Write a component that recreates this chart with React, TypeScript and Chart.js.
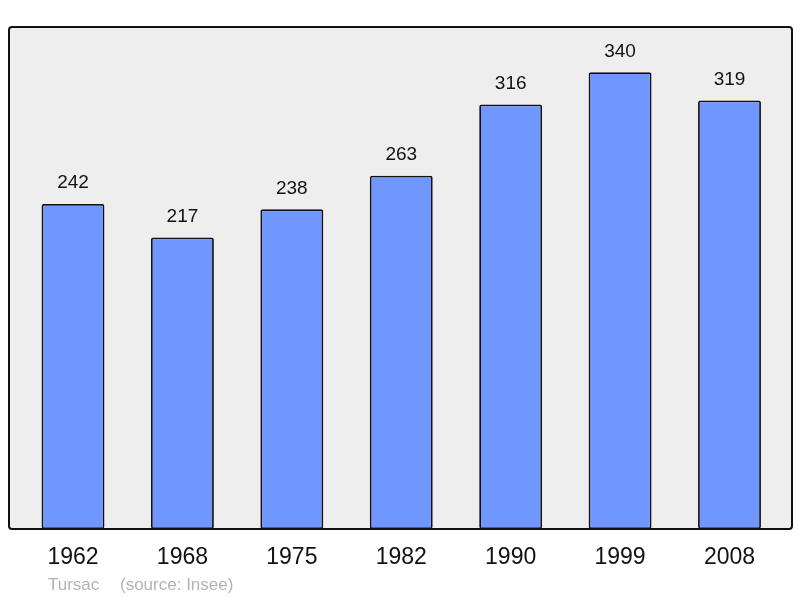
import React, { useEffect, useRef } from "react";
import { Chart, registerables } from "chart.js";

Chart.register(...registerables);

const years = ["1962", "1968", "1975", "1982", "1990", "1999", "2008"];
const population = [242, 217, 238, 263, 316, 340, 319];
const footerName = "Tursac";
const footerSource = "(source: Insee)";

const FONT = "'Liberation Sans', Arial, sans-serif";

const frameRect = (chartArea: any) => {
  const l = chartArea.left - 9.3, r = chartArea.right + 7.8;
  const t = chartArea.top - 1, b = chartArea.bottom;
  return [l, t, r - l, b - t];
};

const framePlugin = {
  id: "frame",
  beforeDatasetsDraw(chart: any) {
    const { ctx, chartArea } = chart;
    const [x, y, w, h] = frameRect(chartArea);
    ctx.save();
    ctx.beginPath();
    ctx.roundRect(x, y, w, h, 3);
    ctx.fillStyle = "#eeeeee";
    ctx.fill();
    ctx.restore();
  },
  afterDatasetsDraw(chart: any) {
    const { ctx, chartArea } = chart;
    const [x, y, w, h] = frameRect(chartArea);
    ctx.save();
    ctx.beginPath();
    ctx.roundRect(x, y, w, h, 3);
    ctx.lineWidth = 2;
    ctx.strokeStyle = "#111111";
    ctx.stroke();
    // value labels
    const meta = chart.getDatasetMeta(0);
    ctx.fillStyle = "#111111";
    ctx.font = `19px ${FONT}`;
    ctx.textAlign = "center";
    ctx.textBaseline = "middle";
    meta.data.forEach((el: any, i: number) => {
      ctx.fillText(String(chart.data.datasets[0].data[i]), el.x, el.y - 21);
    });
    // footer
    ctx.fillStyle = "#b3b3b3";
    ctx.font = `17px ${FONT}`;
    ctx.textAlign = "left";
    ctx.fillText(footerName, 48, 585);
    ctx.fillText(footerSource, 120, 585);
    ctx.restore();
  },
};

export default function App() {
  const ref = useRef<HTMLCanvasElement>(null);
  useEffect(() => {
    document.body.style.margin = "0";
    const chart = new Chart(ref.current!, {
      type: "bar",
      data: {
        labels: years,
        datasets: [
          {
            data: population,
            backgroundColor: "#7097ff",
            borderColor: "#111111",
            borderWidth: 1.8,
            borderRadius: 2,
            borderSkipped: false,
            barPercentage: 0.575,
            categoryPercentage: 1,
          },
        ],
      },
      options: {
        responsive: false,
        animation: false,
        layout: { padding: { left: 18.3, right: 15.8, top: 28, bottom: 19.4 } },
        plugins: { legend: { display: false }, tooltip: { enabled: false } },
        scales: {
          x: {
            grid: { display: false },
            border: { display: false },
            ticks: {
              padding: 7,
              color: "#111111",
              font: { size: 23, family: FONT },
              maxRotation: 0,
              autoSkip: false,
            },
          },
          y: { display: false, min: 0, max: 373 },
        },
      },
      plugins: [framePlugin],
    });
    return () => chart.destroy();
  }, []);
  return (
    <div style={{ width: 800, height: 598 }}>
      <canvas ref={ref} width={800} height={598} />
    </div>
  );
}
